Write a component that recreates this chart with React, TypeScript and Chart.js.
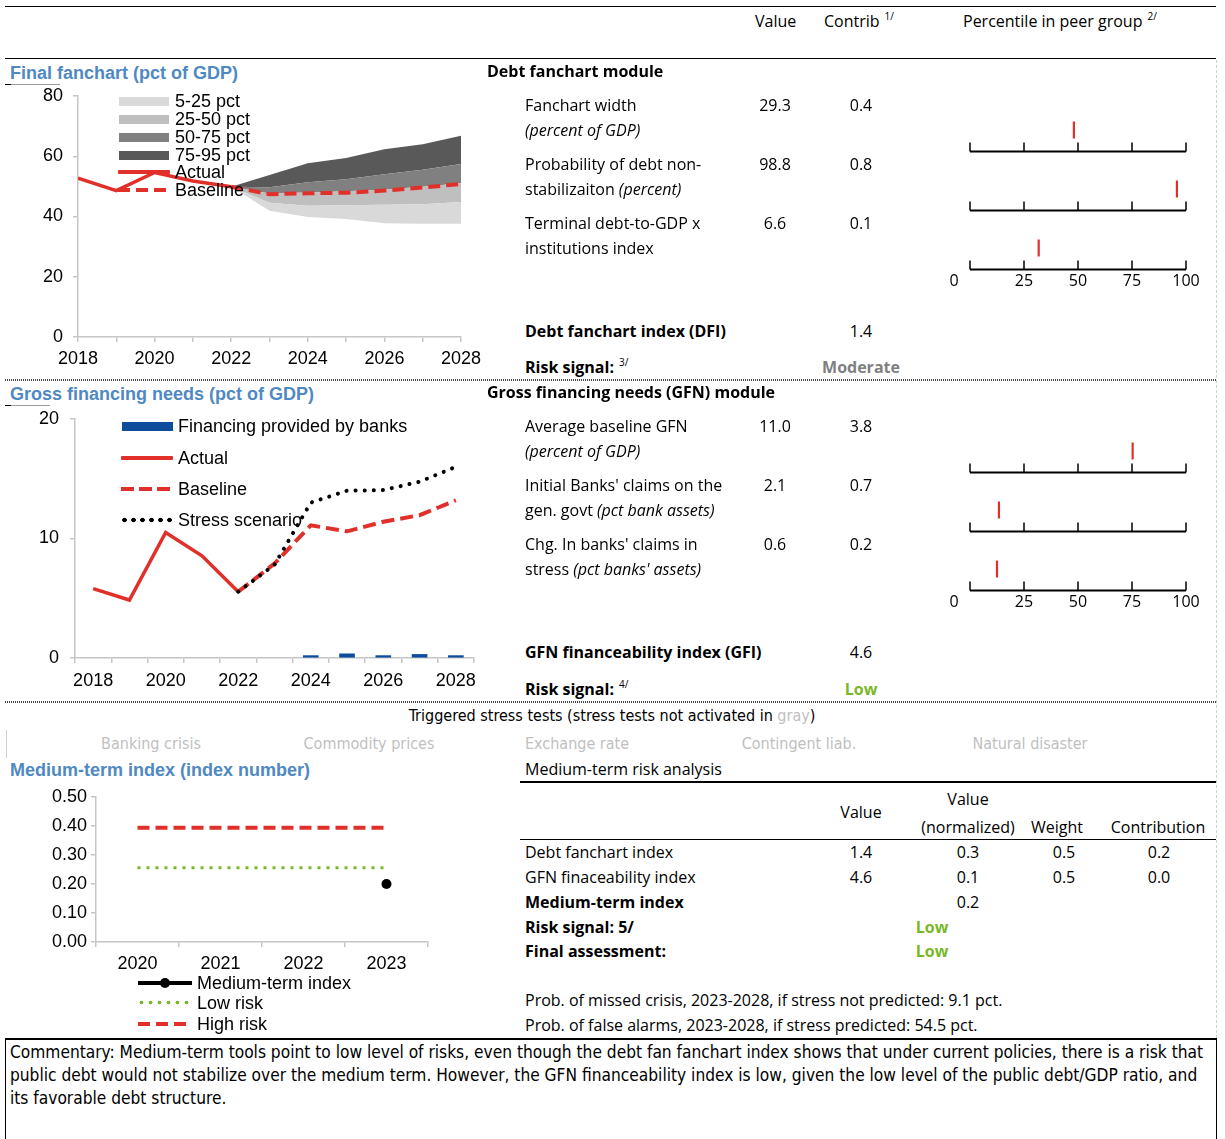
import React, { useEffect, useRef } from 'react';
import { Chart, registerables } from 'chart.js';
Chart.register(...registerables);

// ---------------- DATA ----------------
// Final fanchart (pct of GDP)
const fanActualYears = [2018, 2019, 2020, 2021, 2022];
const fanActualValues = [52.7, 48.6, 54.6, 51.8, 49.9];
const fanProjYears = [2022, 2023, 2024, 2025, 2026, 2027, 2028];
const fanBaseline = [49.9, 47.4, 47.7, 47.9, 48.6, 49.6, 50.8];
const fanP5 = [49.9, 41.9, 39.8, 39.2, 37.8, 37.6, 37.6];
const fanP25 = [49.9, 44.6, 43.6, 43.7, 43.9, 44.1, 44.8];
const fanP50 = [49.9, 47.6, 48.0, 48.4, 49.0, 49.9, 51.0];
const fanP75 = [49.9, 49.7, 51.4, 52.4, 54.0, 55.5, 57.4];
const fanP95 = [49.9, 53.8, 57.7, 59.4, 62.3, 64.0, 66.8];

// Gross financing needs (pct of GDP)
const gfnYears = ['2018', '2019', '2020', '2021', '2022', '2023', '2024', '2025', '2026', '2027', '2028'];
const gfnActual = [5.8, 4.85, 10.5, 8.55, 5.55, null, null, null, null, null, null];
const gfnBaseline = [null, null, null, null, 5.55, 7.9, 11.1, 10.6, 11.4, 11.95, 13.2];
const gfnStress = [null, null, null, null, 5.55, 7.8, 13.0, 14.0, 14.05, 14.75, 16.0];
const gfnBanks = [null, null, null, null, null, null, 0.2, 0.35, 0.2, 0.3, 0.2];

// Medium-term index
const mtYears = ['2020', '2021', '2022', '2023'];
const mtIndex = [null, null, null, 0.2];
const mtLowRisk = [0.256, 0.256, 0.256, 0.256];
const mtHighRisk = [0.394, 0.394, 0.394, 0.394];

// Percentile in peer group
const pctTickValues = [0, 25, 50, 75, 100];
const dfiPercentiles = [48.1, 95.8, 31.8];
const gfiPercentiles = [75.3, 13.4, 12.5];

// Module tables
const dfiRows = [
  { l1: 'Fanchart width', l2: [['(percent of GDP)', true]], value: '29.3', contrib: '0.4' },
  { l1: 'Probability of debt non-', l2: [['stabilizaiton ', false], ['(percent)', true]], value: '98.8', contrib: '0.8' },
  { l1: 'Terminal debt-to-GDP x', l2: [['institutions index', false]], value: '6.6', contrib: '0.1' },
];
const gfiRows = [
  { l1: 'Average baseline GFN', l2: [['(percent of GDP)', true]], value: '11.0', contrib: '3.8' },
  { l1: "Initial Banks' claims on the", l2: [['gen. govt ', false], ['(pct bank assets)', true]], value: '2.1', contrib: '0.7' },
  { l1: "Chg. In banks' claims in", l2: [['stress ', false], ["(pct banks' assets)", true]], value: '0.6', contrib: '0.2' },
];
const stressTests = ['Banking crisis', 'Commodity prices', 'Exchange rate', 'Contingent liab.', 'Natural disaster'];
const mtTableRows = [
  { label: 'Debt fanchart index', value: '1.4', norm: '0.3', weight: '0.5', contrib: '0.2' },
  { label: 'GFN finaceability index', value: '4.6', norm: '0.1', weight: '0.5', contrib: '0.0' },
];

// ---------------- STYLE ----------------
const RED = '#e1302a';
const TITLE_BLUE = '#4f89c4';
const GREEN = '#7ab829';
const AXIS_GREY = '#c6c6c6';
const BANK_BLUE = '#0d4d9c';
const CHART_FONT = 'Arial, "Liberation Sans", sans-serif';
const TEXT_FONT = '"Open Sans", "Noto Sans", sans-serif';
const NARROW_FONT = '"Liberation Sans Narrow", "Arial Narrow", "DejaVu Sans Condensed", Arial, sans-serif';

const PCT_ROWS = [71, 130, 189];
const PCT_LABEL_ROW = 201;
const PCT_MARK_RISE = 21;

const pts = (xs: number[], ys: (number | null)[]) => xs.map((x, i) => ({ x, y: ys[i] }));

const tickFont = { family: CHART_FONT, size: 18 };

function axisCommon(extra: any) {
  return {
    grid: { drawOnChartArea: false, drawTicks: true, tickLength: 5, color: AXIS_GREY, lineWidth: 1.5 },
    border: { display: true, color: AXIS_GREY, width: 1.5 },
    ...extra,
  };
}

const fixY = (w: number) => (s: any) => { s.width = w; s.paddingTop = 0; s.paddingBottom = 0; };
const fixX = (h: number) => (s: any) => { s.height = h; s.paddingLeft = 0; s.paddingRight = 0; };

function fanConfig(): any {
  const band = (data: number[], bg: string, fill: number) => ({
    data: pts(fanProjYears, data), borderWidth: 0, borderColor: 'transparent', pointRadius: 0, backgroundColor: bg, fill,
  });
  return {
    type: 'line',
    data: {
      datasets: [
        { label: 'Actual', data: pts(fanActualYears, fanActualValues), borderColor: RED, borderWidth: 3.5, pointRadius: 0, fill: false },
        { label: 'Baseline', data: pts(fanProjYears, fanBaseline), borderColor: RED, borderWidth: 4, borderDash: [12, 6], pointRadius: 0, fill: false },
        { label: 'p5', data: pts(fanProjYears, fanP5), borderWidth: 0, borderColor: 'transparent', pointRadius: 0, fill: false },
        band(fanP25, '#d9d9d9', 2),
        band(fanP50, '#bfbfbf', 3),
        band(fanP75, '#808080', 4),
        band(fanP95, '#595959', 5),
      ],
    },
    options: {
      responsive: false, animation: false,
      layout: { autoPadding: false, padding: { left: 0, right: 29, top: 16, bottom: 0 } },
      plugins: { legend: { display: false }, tooltip: { enabled: false } },
      scales: {
        x: axisCommon({
          type: 'linear', min: 2018, max: 2028,
          ticks: { stepSize: 1, autoSkip: false, maxRotation: 0, font: tickFont, color: '#000', padding: 6,
            callback: (v: number) => (v % 2 === 0 ? String(v) : '') },
          afterFit: fixX(33),
        }),
        y: axisCommon({
          min: 0, max: 80,
          ticks: { stepSize: 20, font: tickFont, color: '#000', padding: 10 },
          afterFit: fixY(78),
        }),
      },
    },
  };
}

function gfnConfig(): any {
  return {
    type: 'bar',
    data: {
      labels: gfnYears,
      datasets: [
        { type: 'line', label: 'Stress scenario', data: gfnStress, borderColor: '#000', borderWidth: 4, borderDash: [0.1, 9], borderCapStyle: 'round', pointRadius: 0, fill: false },
        { type: 'line', label: 'Actual', data: gfnActual, borderColor: RED, borderWidth: 3.5, pointRadius: 0, fill: false },
        { type: 'line', label: 'Baseline', data: gfnBaseline, borderColor: RED, borderWidth: 4, borderDash: [13, 6], pointRadius: 0, fill: false },
        { type: 'bar', label: 'Financing provided by banks', data: gfnBanks, backgroundColor: BANK_BLUE, barThickness: 15 },
      ],
    },
    options: {
      responsive: false, animation: false,
      layout: { autoPadding: false, padding: { left: 0, right: 16, top: 19, bottom: 0 } },
      plugins: { legend: { display: false }, tooltip: { enabled: false } },
      scales: {
        x: {
          ...axisCommon({}),
          offset: true,
          grid: { offset: true, drawOnChartArea: false, drawTicks: true, tickLength: 5, color: AXIS_GREY, lineWidth: 1.5 },
          ticks: { autoSkip: false, maxRotation: 0, font: tickFont, color: '#000', padding: 7,
            callback: (_v: any, i: number) => (i % 2 === 0 ? gfnYears[i] : '') },
          afterFit: fixX(32),
        },
        y: axisCommon({
          min: 0, max: 20,
          ticks: { stepSize: 10, font: tickFont, color: '#000', padding: 11 },
          afterFit: fixY(75),
        }),
      },
    },
  };
}

function mtConfig(): any {
  return {
    type: 'line',
    data: {
      labels: mtYears,
      datasets: [
        { label: 'Medium-term index', data: mtIndex, borderColor: '#000', backgroundColor: '#000', borderWidth: 4, pointRadius: 5, pointBorderWidth: 0, fill: false },
        { label: 'Low risk', data: mtLowRisk, borderColor: GREEN, borderWidth: 3, borderDash: [3, 6], pointRadius: 0, fill: false },
        { label: 'High risk', data: mtHighRisk, borderColor: RED, borderWidth: 4, borderDash: [12, 6], pointRadius: 0, fill: false },
      ],
    },
    options: {
      responsive: false, animation: false,
      layout: { autoPadding: false, padding: { left: 0, right: 72, top: 12, bottom: 0 } },
      plugins: { legend: { display: false }, tooltip: { enabled: false } },
      scales: {
        x: {
          ...axisCommon({}),
          offset: true,
          grid: { offset: true, drawOnChartArea: false, drawTicks: true, tickLength: 5, color: AXIS_GREY, lineWidth: 1.5 },
          ticks: { font: tickFont, color: '#000', padding: 6, maxRotation: 0 },
          afterFit: fixX(33),
        },
        y: axisCommon({
          min: 0, max: 0.5,
          ticks: { stepSize: 0.1, font: tickFont, color: '#000', padding: 4, callback: (v: number) => v.toFixed(2) },
          afterFit: fixY(96),
        }),
      },
    },
  };
}

const pctAxesPlugin = {
  id: 'pctAxes',
  beforeDatasetsDraw(chart: any) {
    const { ctx } = chart;
    const x = chart.scales.x;
    const y = chart.scales.y;
    ctx.save();
    ctx.strokeStyle = '#000';
    PCT_ROWS.forEach((row) => {
      const py = Math.round(y.getPixelForValue(row)) + 0.5;
      ctx.lineWidth = 1.8;
      ctx.beginPath();
      ctx.moveTo(x.getPixelForValue(0), py);
      ctx.lineTo(x.getPixelForValue(100), py);
      ctx.stroke();
      ctx.lineWidth = 1.5;
      pctTickValues.forEach((v) => {
        const px = x.getPixelForValue(v);
        ctx.beginPath();
        ctx.moveTo(px, py);
        ctx.lineTo(px, py - 9);
        ctx.stroke();
      });
    });
    ctx.fillStyle = '#000';
    ctx.font = '16px "Open Sans", "Noto Sans", sans-serif';
    ctx.textAlign = 'center';
    ctx.textBaseline = 'middle';
    pctTickValues.forEach((v) => {
      ctx.fillText(String(v), x.getPixelForValue(v) - (v === 0 ? 16 : 0), y.getPixelForValue(PCT_LABEL_ROW));
    });
    ctx.restore();
  },
};

function pctConfig(values: number[]): any {
  return {
    type: 'scatter',
    data: {
      datasets: [{
        data: values.map((v, i) => ({ x: v, y: PCT_ROWS[i] - PCT_MARK_RISE })),
        pointStyle: 'line', rotation: 90, radius: 8.5, borderColor: RED, borderWidth: 2.2,
      }],
    },
    options: {
      responsive: false, animation: false, clip: false,
      layout: { autoPadding: false, padding: { left: 30, right: 29, top: 0, bottom: 0 } },
      plugins: { legend: { display: false }, tooltip: { enabled: false } },
      scales: {
        x: { type: 'linear', min: 0, max: 100, display: false },
        y: { type: 'linear', min: 0, max: 215, reverse: true, display: false },
      },
    },
    plugins: [pctAxesPlugin],
  };
}

// ---------------- COMPONENTS ----------------
function ChartCanvas({ left, top, width, height, config }: any) {
  const ref = useRef<HTMLCanvasElement>(null);
  useEffect(() => {
    const chart = new Chart(ref.current as HTMLCanvasElement, config());
    return () => chart.destroy();
  }, []);
  return <canvas ref={ref} width={width} height={height} style={{ position: 'absolute', left, top, width, height, display: 'block' }} />;
}

function T({ x, y, children, center, style }: any) {
  return (
    <div style={{
      position: 'absolute', left: x, top: y - 12, lineHeight: '24px', height: 24, whiteSpace: 'nowrap',
      fontFamily: TEXT_FONT, fontSize: 16, color: '#000',
      transform: center ? 'translateX(-50%)' : undefined, ...style,
    }}>{children}</div>
  );
}

const Sup = ({ children }: any) => (
  <span style={{ fontSize: 10, position: 'relative', top: -7, marginLeft: 5, fontWeight: 400 }}>{children}</span>
);

function Title({ y, children }: any) {
  return (
    <div style={{ position: 'absolute', left: 10, top: y - 11, lineHeight: '22px', fontFamily: CHART_FONT, fontWeight: 700, fontSize: 18, color: TITLE_BLUE, whiteSpace: 'nowrap' }}>{children}</div>
  );
}

function LegendItem({ x, y, swatch, label, textX }: any) {
  return (
    <>
      <div style={{ position: 'absolute', left: x, top: y - 10, width: swatch.w, height: 20, display: 'flex', alignItems: 'center' }}>{swatch.el}</div>
      <div style={{ position: 'absolute', left: textX, top: y - 10, lineHeight: '20px', fontFamily: CHART_FONT, fontSize: 18, whiteSpace: 'nowrap', color: '#000' }}>{label}</div>
    </>
  );
}

const boxSw = (color: string, w: number, h: number) => ({ w, el: <div style={{ width: w, height: h, background: color }} /> });
const solidSw = (color: string, w: number, h: number) => ({ w, el: <div style={{ width: w, height: h, background: color, borderRadius: 1 }} /> });
const dashSw = (color: string, w: number, h: number, on: number, off: number) => ({
  w, el: <div style={{ width: w, height: h, background: `repeating-linear-gradient(90deg, ${color} 0 ${on}px, transparent ${on}px ${on + off}px)` }} />,
});
const dotSw = (color: string, w: number, step: number, r: number) => ({
  w, el: <div style={{ width: w, height: r * 2 + 2, background: `radial-gradient(circle, ${color} ${r}px, transparent ${r + 0.6}px) 0 0 / ${step}px ${r * 2 + 2}px repeat-x` }} />,
});

function HLine({ x, y, w, h = 1, color = '#000', style }: any) {
  return <div style={{ position: 'absolute', left: x, top: y, width: w, height: h, background: color, ...style }} />;
}

function ModuleRows({ rows, startY }: any) {
  return (
    <>
      {rows.map((r: any, i: number) => {
        const y = startY + i * 59;
        return (
          <React.Fragment key={i}>
            <T x={525} y={y}>{r.l1}</T>
            <T x={525} y={y + 24.5}>{r.l2.map((p: any, j: number) => <span key={j} style={{ fontStyle: p[1] ? 'italic' : 'normal' }}>{p[0]}</span>)}</T>
            <T x={775} y={y} center>{r.value}</T>
            <T x={861} y={y} center>{r.contrib}</T>
          </React.Fragment>
        );
      })}
    </>
  );
}

export default function App() {
  const dotted = { background: 'repeating-linear-gradient(90deg, #444 0 1px, transparent 1px 2px)' };
  return (
    <div style={{ position: 'absolute', left: 0, top: 0, width: 1225, height: 1139, background: '#fff', overflow: 'hidden' }}>
      {/* header */}
      <HLine x={5} y={6} w={1211} />
      <T x={755} y={21}>Value</T>
      <T x={824} y={21}>Contrib<Sup>1/</Sup></T>
      <T x={963} y={21}>Percentile in peer group<Sup>2/</Sup></T>
      <HLine x={5} y={58} w={1211} />
      <div style={{ position: 'absolute', left: 1216, top: 60, width: 0, height: 978, borderLeft: '1px dashed #d0d0d0' }} />

      {/* Section 1 */}
      <Title y={73}>Final fanchart (pct of GDP)</Title>
      <HLine x={5} y={84} w={55} color="#9a9a9a" />
      <HLine x={5} y={84} w={6} color="#000" />
      <ChartCanvas left={0} top={80} width={490} height={290} config={fanConfig} />
      <LegendItem x={119} y={101} textX={175} swatch={boxSw('#d9d9d9', 50, 9)} label="5-25 pct" />
      <LegendItem x={119} y={119} textX={175} swatch={boxSw('#bfbfbf', 50, 9)} label="25-50 pct" />
      <LegendItem x={119} y={137} textX={175} swatch={boxSw('#808080', 50, 9)} label="50-75 pct" />
      <LegendItem x={119} y={155} textX={175} swatch={boxSw('#595959', 50, 9)} label="75-95 pct" />
      <LegendItem x={118} y={172} textX={175} swatch={solidSw(RED, 52, 4)} label="Actual" />
      <LegendItem x={118} y={190} textX={175} swatch={dashSw(RED, 52, 4, 12, 6)} label="Baseline" />

      <T x={487} y={71} style={{ fontWeight: 700 }}>Debt fanchart module</T>
      <ModuleRows rows={dfiRows} startY={105} />
      <T x={525} y={331} style={{ fontWeight: 700 }}>Debt fanchart index (DFI)</T>
      <T x={861} y={331} center>1.4</T>
      <T x={525} y={367} style={{ fontWeight: 700 }}>Risk signal:<Sup>3/</Sup></T>
      <T x={861} y={367} center style={{ fontWeight: 700, color: '#7f7f7f' }}>Moderate</T>
      <ChartCanvas left={940} top={80} width={275} height={215} config={() => pctConfig(dfiPercentiles)} />

      <HLine x={5} y={379} w={1211} h={2} style={dotted} />

      {/* Section 2 */}
      <Title y={394}>Gross financing needs (pct of GDP)</Title>
      <HLine x={5} y={405} w={45} color="#9a9a9a" />
      <HLine x={5} y={405} w={6} color="#000" />
      <ChartCanvas left={0} top={400} width={490} height={290} config={gfnConfig} />
      <LegendItem x={122} y={426} textX={178} swatch={boxSw(BANK_BLUE, 51, 9)} label="Financing provided by banks" />
      <LegendItem x={121} y={458} textX={178} swatch={solidSw(RED, 52, 4)} label="Actual" />
      <LegendItem x={121} y={489} textX={178} swatch={dashSw(RED, 52, 4, 13, 5)} label="Baseline" />
      <LegendItem x={120} y={520} textX={178} swatch={dotSw('#000', 54, 9, 2)} label="Stress scenario" />

      <T x={487} y={392} style={{ fontWeight: 700 }}>Gross financing needs (GFN) module</T>
      <ModuleRows rows={gfiRows} startY={426} />
      <T x={525} y={652} style={{ fontWeight: 700 }}>GFN financeability index (GFI)</T>
      <T x={861} y={652} center>4.6</T>
      <T x={525} y={689} style={{ fontWeight: 700 }}>Risk signal:<Sup>4/</Sup></T>
      <T x={861} y={689} center style={{ fontWeight: 700, color: GREEN }}>Low</T>
      <ChartCanvas left={940} top={401} width={275} height={215} config={() => pctConfig(gfiPercentiles)} />

      <HLine x={5} y={701} w={1211} h={2} style={dotted} />

      {/* Stress tests */}
      <T x={612} y={716} center style={{ fontFamily: NARROW_FONT, fontSize: 16 }}>
        Triggered stress tests (stress tests not activated in <span style={{ color: '#bfbfbf' }}>gray</span>)
      </T>
      <div style={{ position: 'absolute', left: 6, top: 730, width: 1, height: 28, background: '#d0d0d0' }} />
      {stressTests.map((s, i) => (
        <T key={s} x={[151, 369, 577, 799, 1030][i]} y={744} center style={{ fontFamily: NARROW_FONT, fontSize: 16, color: '#bfbfbf' }}>{s}</T>
      ))}

      {/* Section 3 */}
      <Title y={770}>Medium-term index (index number)</Title>
      <ChartCanvas left={0} top={785} width={500} height={190} config={mtConfig} />
      <LegendItem x={138} y={983} textX={197} swatch={{ w: 54, el: (
        <div style={{ position: 'relative', width: 54, height: 10 }}>
          <div style={{ position: 'absolute', left: 0, top: 3, width: 54, height: 4, background: '#000' }} />
          <div style={{ position: 'absolute', left: 22, top: 0, width: 10, height: 10, borderRadius: 5, background: '#000' }} />
        </div>) }} label="Medium-term index" />
      <LegendItem x={137} y={1003} textX={197} swatch={dotSw(GREEN, 52, 9, 1.6)} label="Low risk" />
      <LegendItem x={138} y={1024} textX={197} swatch={dashSw(RED, 52, 4, 12, 6)} label="High risk" />

      <T x={525} y={769}>Medium-term risk analysis</T>
      <HLine x={520} y={781} w={696} h={2} />
      <T x={861} y={812} center>Value</T>
      <T x={968} y={799} center>Value</T>
      <T x={968} y={827} center>(normalized)</T>
      <T x={1057} y={827} center>Weight</T>
      <T x={1158} y={827} center>Contribution</T>
      <HLine x={520} y={839} w={696} h={1} />
      {mtTableRows.map((r, i) => {
        const y = 852 + i * 25;
        return (
          <React.Fragment key={r.label}>
            <T x={525} y={y}>{r.label}</T>
            <T x={861} y={y} center>{r.value}</T>
            <T x={968} y={y} center>{r.norm}</T>
            <T x={1064} y={y} center>{r.weight}</T>
            <T x={1159} y={y} center>{r.contrib}</T>
          </React.Fragment>
        );
      })}
      <T x={525} y={902} style={{ fontWeight: 700 }}>Medium-term index</T>
      <T x={968} y={902} center>0.2</T>
      <T x={525} y={927} style={{ fontWeight: 700 }}>Risk signal: 5/</T>
      <T x={932} y={927} center style={{ fontWeight: 700, color: GREEN }}>Low</T>
      <T x={525} y={951} style={{ fontWeight: 700 }}>Final assessment:</T>
      <T x={932} y={951} center style={{ fontWeight: 700, color: GREEN }}>Low</T>
      <T x={525} y={1000}>Prob. of missed crisis, 2023-2028, if stress not predicted: 9.1 pct.</T>
      <T x={525} y={1025}>Prob. of false alarms, 2023-2028, if stress predicted: 54.5 pct.</T>

      {/* Commentary */}
      <div style={{ position: 'absolute', left: 5, top: 1038, width: 1210, height: 120, borderTop: '2px solid #000', borderLeft: '1px solid #000', borderRight: '1px solid #000' }} />
      {[
        'Commentary: Medium-term tools point to low level of risks, even though the debt fan fanchart index shows that under current policies, there is a risk that',
        'public debt would not stabilize over the medium term. However, the GFN financeability index is low, given the low level of the public debt/GDP ratio, and',
        'its favorable debt structure.',
      ].map((line, i) => (
        <T key={i} x={10} y={1052 + i * 23} style={{ fontFamily: NARROW_FONT, fontSize: 17.2 }}>{line}</T>
      ))}
    </div>
  );
}
